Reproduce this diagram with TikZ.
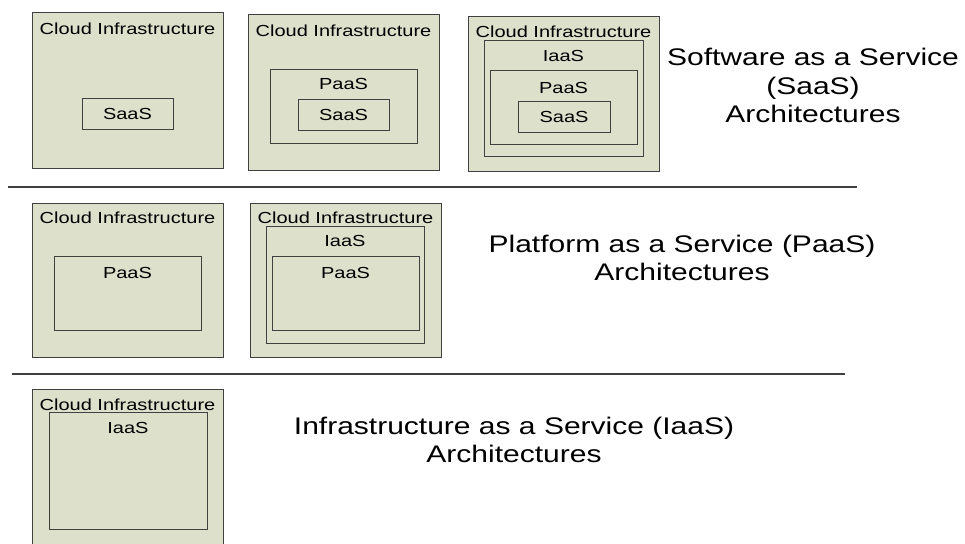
\documentclass[tikz,border=0pt]{standalone}
\usepackage{fontspec}
\setmainfont{Liberation Sans}
\usepackage{xcolor}
\usetikzlibrary{positioning}
\definecolor{cloudfill}{RGB}{221,224,203}
\definecolor{edgegray}{RGB}{64,64,64}
\tikzset{
  cloudbox/.style={draw=edgegray, fill=cloudfill, line width=1pt},
  layerbox/.style={draw=edgegray, line width=0.9pt},
  boxtext/.style={font=\fontsize{16}{19}\selectfont, inner sep=0pt, xscale=1.25},
  archtext/.style={font=\fontsize{24}{28.5}\selectfont, inner sep=0pt, xscale=1.25, align=center, anchor=north},
  divider/.style={draw=edgegray, line width=1.2pt}
}

\begin{document}
\begin{tikzpicture}[x=1pt,y=-1pt]
\useasboundingbox (0,0) rectangle (965,543);

% SaaS row
\draw[cloudbox] (32,13) rectangle (223,168);
\node[boxtext] (ciSa) at (127.5,28.5) {Cloud Infrastructure};
\draw[layerbox] (82,98) rectangle (173,129);
\node[boxtext] (saasSa) at (127.5,113.5) {SaaS};

\draw[cloudbox] (248,15) rectangle (439,170);
\node[boxtext] (ciSb) at (343.5,31) {Cloud Infrastructure};
\draw[layerbox] (270,69) rectangle (417,143);
\node[boxtext] (paasSb) at (343.5,84) {PaaS};
\draw[layerbox] (298,99) rectangle (389,130);
\node[boxtext] (saasSb) at (343.5,114.5) {SaaS};

\draw[cloudbox] (468,17) rectangle (659,171);
\node[boxtext] (ciSc) at (563.5,32) {Cloud Infrastructure};
\draw[layerbox] (484,40) rectangle (643,156);
\node[boxtext] (iaasSc) at (563.5,56) {IaaS};
\draw[layerbox] (490,70) rectangle (637,144);
\node[boxtext] (paasSc) at (563.5,87.5) {PaaS};
\draw[layerbox] (518,101) rectangle (610,132);
\node[boxtext] (saasSc) at (564,116.5) {SaaS};

\node[archtext] (saasArch) at (813,48) {Software as a Service\\(SaaS)\\Architectures};

\draw[divider] (8,187) -- (857,187);

% PaaS row
\draw[cloudbox] (32,203) rectangle (223,357);
\node[boxtext] (ciPa) at (127.5,217.5) {Cloud Infrastructure};
\draw[layerbox] (54,256) rectangle (201,330);
\node[boxtext] (paasPa) at (127.5,272.5) {PaaS};

\draw[cloudbox] (250,203) rectangle (441,357);
\node[boxtext] (ciPb) at (345.5,217.5) {Cloud Infrastructure};
\draw[layerbox] (266,226) rectangle (424,343);
\node[boxtext] (iaasPb) at (345,241) {IaaS};
\draw[layerbox] (272,256) rectangle (419,330);
\node[boxtext] (paasPb) at (345.5,272.5) {PaaS};

\node[archtext] (paasArch) at (682,234.5) {Platform as a Service (PaaS)\\Architectures};

\draw[divider] (12,374) -- (845,374);

% IaaS row
\draw[cloudbox] (32,544) -- (32,389) -- (223,389) -- (223,544);
\node[boxtext] (ciIa) at (127.5,405) {Cloud Infrastructure};
\draw[layerbox] (49,412) rectangle (207,529);
\node[boxtext] (iaasIa) at (128,428) {IaaS};

\node[archtext] (iaasArch) at (514,416.5) {Infrastructure as a Service (IaaS)\\Architectures};

\end{tikzpicture}
\end{document}
